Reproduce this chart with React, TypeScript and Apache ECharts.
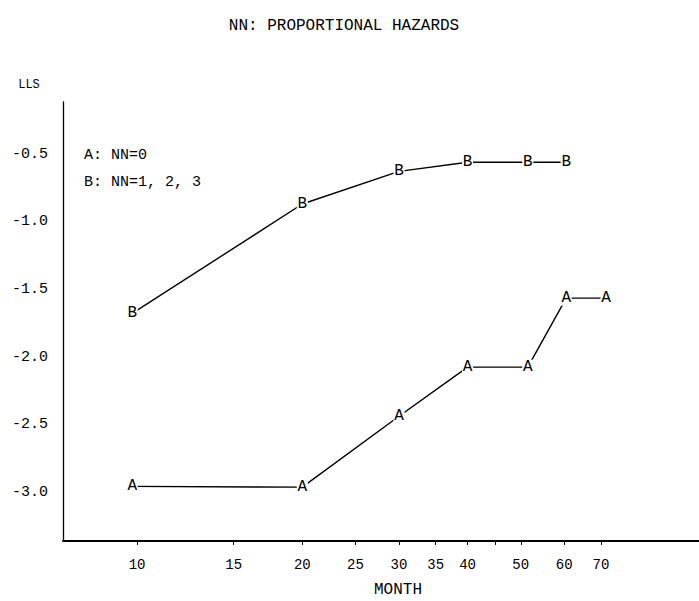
import React, { useEffect, useRef } from 'react';
import * as echarts from 'echarts';

// ---- data ----
const months = [9.8, 20, 30, 40, 51.5, 60.5, 71.5];
const seriesA = [-2.956, -2.962, -2.438, -2.075, -2.075, -1.565, -1.565];
const seriesB = [-1.678, -0.869, -0.628, -0.56, -0.56, -0.56];
const xTickValues = [10, 15, 20, 25, 30, 35, 40, 45, 50, 60, 70];
const xLabelValues = [10, 15, 20, 25, 30, 35, 40, 50, 60, 70];
const yLabelValues = [-3.0, -2.5, -2.0, -1.5, -1.0, -0.5];
const legendLines = ['A: NN=0', 'B: NN=1, 2, 3'];
const titleText = 'NN: PROPORTIONAL HAZARDS';
const xName = 'MONTH';
const yName = 'LLS';

const FONT = '"Liberation Mono", "DejaVu Sans Mono", monospace';

function letterSeries(name: string, letter: string, ys: number[]) {
  return {
    name,
    type: 'line',
    data: ys.map((v, i) => [months[i], v]),
    symbol: 'rect',
    symbolSize: [11, 15],
    itemStyle: { color: '#ffffff', borderWidth: 0 },
    lineStyle: { color: '#000000', width: 1.4 },
    label: {
      show: true,
      position: 'inside',
      formatter: letter,
      color: '#000000',
      fontFamily: FONT,
      fontSize: 16,
    },
    emphasis: { disabled: true },
    silent: true,
    z: 3,
  };
}

export default function App() {
  const ref = useRef<HTMLDivElement>(null);
  useEffect(() => {
    if (!ref.current) return;
    const chart = echarts.init(ref.current, null, { renderer: 'svg' });
    const option: any = {
      animation: false,
      backgroundColor: '#ffffff',
      grid: { left: 63, right: 0, top: 102, bottom: 60, containLabel: false, outerBoundsMode: 'none' },
      xAxis: {
        type: 'log',
        logBase: 10,
        min: 7.33,
        max: 105.6,
        axisLine: { show: true, lineStyle: { color: '#000000', width: 1.8 } },
        axisTick: { show: true, customValues: xTickValues, length: 4, lineStyle: { color: '#000000', width: 1 } },
        axisLabel: {
          customValues: xLabelValues,
          formatter: (v: number) => String(Math.round(v)),
          color: '#000000',
          fontFamily: FONT,
          fontSize: 14,
          margin: 17,
        },
        splitLine: { show: false },
        minorTick: { show: false },
        minorSplitLine: { show: false },
      },
      yAxis: {
        type: 'value',
        min: -3.36,
        max: -0.115,
        axisLine: { show: true, lineStyle: { color: '#000000', width: 1.3 } },
        axisTick: { show: false },
        axisLabel: {
          customValues: yLabelValues,
          formatter: (v: number) => v.toFixed(1),
          color: '#000000',
          fontFamily: FONT,
          fontSize: 15,
          margin: 15,
        },
        splitLine: { show: false },
      },
      graphic: [
        {
          type: 'text',
          x: 344,
          y: 26,
          style: { text: titleText, fontFamily: FONT, fontSize: 16, fill: '#000000', align: 'center', verticalAlign: 'middle' },
        },
        {
          type: 'text',
          x: 29,
          y: 85,
          style: { text: yName, fontFamily: FONT, fontSize: 12, fill: '#000000', align: 'center', verticalAlign: 'middle' },
        },
        {
          type: 'text',
          x: 398,
          y: 590,
          style: { text: xName, fontFamily: FONT, fontSize: 16, fill: '#000000', align: 'center', verticalAlign: 'middle' },
        },
        {
          type: 'text',
          x: 84,
          y: 155,
          style: { text: legendLines[0], fontFamily: FONT, fontSize: 15, fill: '#000000', align: 'left', verticalAlign: 'middle' },
        },
        {
          type: 'text',
          x: 84,
          y: 182,
          style: { text: legendLines[1], fontFamily: FONT, fontSize: 15, fill: '#000000', align: 'left', verticalAlign: 'middle' },
        },
      ],
      series: [letterSeries('A', 'A', seriesA), letterSeries('B', 'B', seriesB)],
    };
    chart.setOption(option);
    return () => chart.dispose();
  }, []);
  return (
    <div
      ref={ref}
      style={{ position: 'fixed', left: 0, top: 0, width: 699, height: 601, background: '#ffffff' }}
    />
  );
}
